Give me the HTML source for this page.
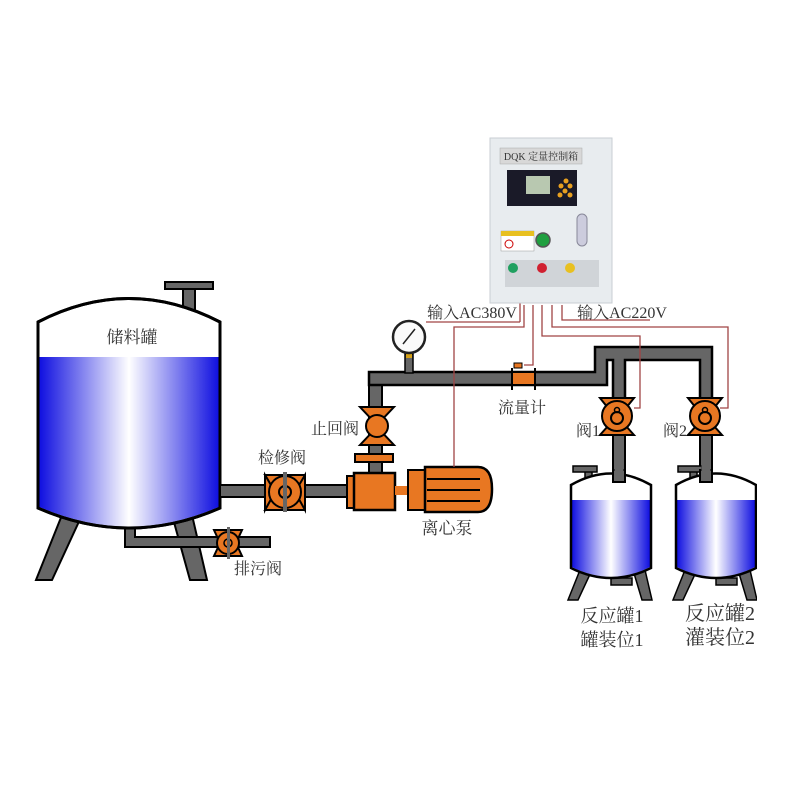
<!DOCTYPE html>
<html><head><meta charset="utf-8"><style>
html,body{margin:0;padding:0;background:#fff;}
svg{display:block;}
text{font-family:"Liberation Serif","Noto Serif CJK SC","Noto Sans CJK SC",serif;fill:#333;}
</style></head><body>
<svg width="800" height="800" viewBox="0 0 800 800" xmlns="http://www.w3.org/2000/svg">
<defs>
<linearGradient id="liq" x1="0" x2="1" y1="0" y2="0">
<stop offset="0" stop-color="#1010e0"/><stop offset="0.5" stop-color="#ffffff"/><stop offset="1" stop-color="#1010e0"/>
</linearGradient>
</defs>
<rect width="800" height="800" fill="#fff"/>

<!-- Storage tank nozzle -->
<rect x="183" y="287" width="12" height="34" fill="#666" stroke="#000" stroke-width="2"/>
<rect x="165" y="282" width="48" height="7" fill="#666" stroke="#000" stroke-width="2"/>
<!-- legs -->
<polygon points="62,515 82,515 52,580 36,580" fill="#666" stroke="#000" stroke-width="2"/>
<polygon points="172,515 192,515 207,580 190,580" fill="#666" stroke="#000" stroke-width="2"/>
<!-- drain pipe -->
<path d="M125,527 L125,547 L270,547 L270,537 L135,537 L135,527 Z" fill="#666" stroke="#000" stroke-width="2"/>
<!-- main tank -->
<path d="M38,322 Q129,275 220,322 L220,508 Q129,548 38,508 Z" fill="#fff" stroke="#000" stroke-width="3"/>
<path d="M39.5,357 L218.5,357 L218.5,507 Q129,546 39.5,507 Z" fill="url(#liq)"/>
<path d="M38,322 Q129,275 220,322 L220,508 Q129,548 38,508 Z" fill="none" stroke="#000" stroke-width="3"/>
<text x="132" y="343" font-size="17" text-anchor="middle">储料罐</text>

<!-- outlet pipe to pump -->
<rect x="220" y="485" width="130" height="12" fill="#666" stroke="#000" stroke-width="2"/>
<!-- service valve -->
<polygon points="265,475 305,475 305,510 265,510 275,492" fill="#e87722" stroke="#000" stroke-width="2"/>
<polygon points="265,475 275,492 265,510" fill="#e87722" stroke="#000" stroke-width="2"/>
<polygon points="305,475 295,492 305,510" fill="#e87722" stroke="#000" stroke-width="2"/>
<circle cx="285" cy="492" r="16" fill="#e87722" stroke="#000" stroke-width="2"/>
<circle cx="285" cy="492" r="6" fill="none" stroke="#000" stroke-width="2"/>
<rect x="283" y="472" width="4" height="40" fill="#666"/>
<text x="282" y="463" font-size="16" text-anchor="middle">检修阀</text>

<!-- drain valve -->
<polygon points="214,530 242,530 236,543 242,556 214,556 220,543" fill="#e87722" stroke="#000" stroke-width="2"/>
<circle cx="228" cy="543" r="11" fill="#e87722" stroke="#000" stroke-width="2"/>
<circle cx="228" cy="543" r="4" fill="none" stroke="#000" stroke-width="1.5"/>
<rect x="227" y="527" width="3" height="32" fill="#666"/>
<text x="258" y="574" font-size="16" text-anchor="middle">排污阀</text>

<!-- pump vertical pipe -->
<rect x="369" y="372" width="13" height="103" fill="#666" stroke="#000" stroke-width="2"/>
<!-- top horizontal pipe -->
<path d="M369,385 L369,372 L595,372 L595,347 L712,347 L712,400 L700,400 L700,360 L625,360 L625,400 L613,400 L613,360 L607,360 L607,385 Z" fill="#666" stroke="#000" stroke-width="2.5"/>
<rect x="370.5" y="373.5" width="10" height="10" fill="#666"/>
<!-- gauge -->
<rect x="405" y="354" width="8" height="19" fill="#666" stroke="#000" stroke-width="1.5"/>
<rect x="406" y="352" width="6" height="6" fill="#d4a017"/>
<circle cx="409" cy="337" r="16" fill="#fafafa" stroke="#222" stroke-width="2.5"/>
<line x1="403" y1="344" x2="415" y2="329" stroke="#222" stroke-width="1.5"/>

<!-- check valve -->
<polygon points="360,407 394,407 377,425" fill="#e87722" stroke="#000" stroke-width="2"/>
<polygon points="360,445 394,445 377,427" fill="#e87722" stroke="#000" stroke-width="2"/>
<circle cx="377" cy="426" r="11" fill="#e87722" stroke="#000" stroke-width="2"/>
<text x="335" y="434" font-size="16" text-anchor="middle">止回阀</text>
<rect x="355" y="454" width="38" height="8" fill="#e87722" stroke="#000" stroke-width="2"/>

<!-- pump -->
<rect x="347" y="476" width="8" height="32" fill="#e87722" stroke="#000" stroke-width="2"/>
<rect x="354" y="473" width="41" height="37" fill="#e87722" stroke="#000" stroke-width="2.5"/>
<rect x="395" y="486" width="14" height="9" fill="#e87722"/>
<rect x="408" y="470" width="17" height="40" fill="#e87722" stroke="#000" stroke-width="2"/>
<path d="M425,467 L478,467 Q492,467 492,489 Q492,512 478,512 L425,512 Z" fill="#e87722" stroke="#000" stroke-width="2.5"/>
<line x1="427" y1="479" x2="480" y2="479" stroke="#000" stroke-width="2"/>
<line x1="427" y1="490" x2="480" y2="490" stroke="#000" stroke-width="2"/>
<line x1="427" y1="501" x2="480" y2="501" stroke="#000" stroke-width="2"/>
<text x="447" y="534" font-size="17" text-anchor="middle">离心泵</text>

<!-- flow meter -->
<rect x="513" y="373" width="22" height="11" fill="#e87722"/>
<line x1="512" y1="368" x2="512" y2="390" stroke="#000" stroke-width="2"/>
<line x1="535" y1="368" x2="535" y2="390" stroke="#000" stroke-width="2"/>
<rect x="514" y="363" width="8" height="5" fill="#e87722" stroke="#000" stroke-width="1"/>
<text x="522" y="413" font-size="16" text-anchor="middle">流量计</text>

<!-- pipes below valves -->
<rect x="613" y="430" width="12" height="50" fill="#666" stroke="#000" stroke-width="2"/>
<rect x="700" y="430" width="12" height="50" fill="#666" stroke="#000" stroke-width="2"/>

<!-- valves 1 and 2 -->
<g id="v1">
<polygon points="600,398 634,398 626,408 626,426 634,435 600,435 608,426 608,408" fill="#e87722" stroke="#000" stroke-width="2"/>
<circle cx="617" cy="416" r="15" fill="#e87722" stroke="#000" stroke-width="2"/>
<circle cx="617" cy="418" r="6" fill="none" stroke="#000" stroke-width="2"/>
<circle cx="617" cy="410" r="2.5" fill="none" stroke="#000" stroke-width="1.5"/>
</g>
<use href="#v1" transform="translate(88,0)"/>
<text x="588" y="436" font-size="16" text-anchor="middle">阀1</text>
<text x="675" y="436" font-size="16" text-anchor="middle">阀2</text>

<!-- small tanks -->
<g id="t1">
<rect x="585" y="470" width="7" height="16" fill="#666" stroke="#000" stroke-width="1.5"/>
<rect x="573" y="466" width="24" height="6" fill="#666" stroke="#000" stroke-width="1.5"/>
<path d="M611,572 L611,585 L632,585 L632,578 L617,578 L617,572 Z" fill="#666" stroke="#000" stroke-width="1.5"/>
<polygon points="580,570 592,570 578,600 568,600" fill="#666" stroke="#000" stroke-width="1.5"/>
<polygon points="633,570 645,570 652,600 642,600" fill="#666" stroke="#000" stroke-width="1.5"/>
<path d="M571,485 Q611,462 651,485 L651,568 Q611,588 571,568 Z" fill="#fff"/>
<path d="M572,500 L650,500 L650,567 Q611,587 572,567 Z" fill="url(#liq)"/>
<path d="M571,485 Q611,462 651,485 L651,568 Q611,588 571,568 Z" fill="none" stroke="#000" stroke-width="2.5"/>
</g>
<use href="#t1" transform="translate(105,0)"/>
<rect x="613" y="470" width="12" height="12" fill="#666" stroke="#000" stroke-width="2"/>
<rect x="700" y="470" width="12" height="12" fill="#666" stroke="#000" stroke-width="2"/>
<rect x="614.5" y="465" width="9" height="16" fill="#666"/>
<rect x="701.5" y="465" width="9" height="16" fill="#666"/>
<rect x="757" y="440" width="43" height="180" fill="#fff"/>
<text x="612" y="622" font-size="18" text-anchor="middle">反应罐1</text>
<text x="612" y="646" font-size="18" text-anchor="middle">罐装位1</text>
<text x="720" y="620" font-size="20" text-anchor="middle" fill="#111">反应罐2</text>
<text x="720" y="644" font-size="20" text-anchor="middle" fill="#111">灌装位2</text>

<!-- wires -->
<g fill="none" stroke="#a04545" stroke-width="1.3">
<polyline points="454,467 454,327 524,327 524,305"/>
<polyline points="533,305 533,365 524,365"/>
<polyline points="542,305 542,336 640,336 640,408 634,408"/>
<polyline points="552,305 552,327 728,327 728,408 720,408"/>
<polyline points="562,305 562,320 650,320"/>
<line x1="520" y1="300" x2="520" y2="322"/>
<line x1="426" y1="322" x2="520" y2="322"/>
</g>
<text x="472" y="318" font-size="16" text-anchor="middle">输入AC380V</text>
<text x="622" y="318" font-size="16" text-anchor="middle">输入AC220V</text>

<!-- control box -->
<rect x="490" y="138" width="122" height="165" fill="#e8ecef" stroke="#c8ced3" stroke-width="1"/>
<rect x="500" y="148" width="82" height="16" fill="#d8d8d8" stroke="#aaa" stroke-width="0.5"/>
<text x="541" y="160" font-size="10" text-anchor="middle">DQK 定量控制箱</text>
<rect x="507" y="170" width="70" height="36" fill="#1a1a28"/>
<rect x="526" y="176" width="24" height="18" fill="#b8c8b0"/>
<circle cx="566" cy="181" r="2.5" fill="#e8a020"/><circle cx="561" cy="186" r="2.5" fill="#e8a020"/><circle cx="570" cy="186" r="2.5" fill="#e8a020"/><circle cx="565" cy="191" r="2.5" fill="#e8a020"/><circle cx="560" cy="195" r="2.5" fill="#e8a020"/><circle cx="570" cy="195" r="2.5" fill="#e8a020"/>
<rect x="577" y="214" width="10" height="32" rx="5" fill="#ccd" stroke="#889" stroke-width="1"/>
<rect x="501" y="231" width="33" height="20" fill="#fff" stroke="#999" stroke-width="0.5"/>
<rect x="501" y="231" width="33" height="5" fill="#e8c020"/>
<circle cx="509" cy="244" r="4" fill="none" stroke="#c00" stroke-width="1"/>
<circle cx="543" cy="240" r="7" fill="#20a040" stroke="#555" stroke-width="1.5"/>
<rect x="505" y="260" width="94" height="27" fill="#d0d4d8"/>
<circle cx="513" cy="268" r="5" fill="#20a060"/><circle cx="542" cy="268" r="5" fill="#d02030"/><circle cx="570" cy="268" r="5" fill="#e8c020"/>
</svg>
</body></html>
